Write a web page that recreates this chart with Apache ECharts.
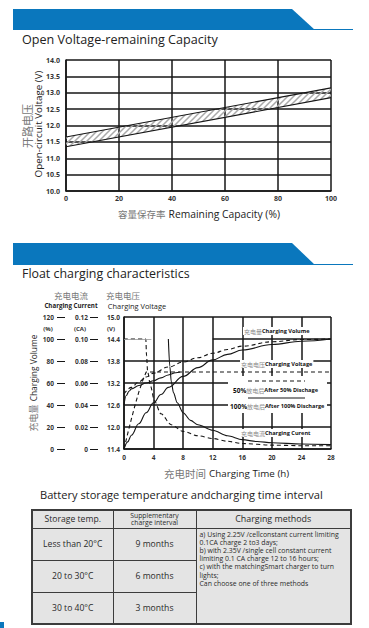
<!DOCTYPE html>
<html>
<head>
<meta charset="utf-8">
<script src="https://cdn.jsdelivr.net/npm/echarts/dist/echarts.min.js"></script>
<style>
html,body{margin:0;padding:0;background:#fff;}
#chart{position:absolute;left:0;top:0;width:369px;height:628px;}
#ttl{position:absolute;left:40px;top:488px;font-family:'Open Sans',sans-serif;font-size:11.1px;color:#222;white-space:nowrap;line-height:14px;}
#tbl{position:absolute;left:31px;top:509px;border-collapse:collapse;background:#e4e4e4;font-family:'Open Sans',sans-serif;color:#2a2a2a;table-layout:fixed;border:2px solid #3c3c3c;}
#tbl td{border:1px solid #3c3c3c;text-align:center;padding:0;font-size:8.6px;line-height:10px;}
#tbl td.h2{font-size:6.8px;line-height:7.4px;}
#tbl td.h3{font-size:8.9px;}
#tbl td.m{text-align:left;vertical-align:top;font-size:6.9px;line-height:8.2px;padding:2px 0 0 3px;white-space:nowrap;}
#mark{position:absolute;left:0;top:622px;width:4px;height:6px;background:#0a77bd;}
</style>
</head>
<body>
<div id="chart"></div>
<div id="ttl">Battery storage temperature andcharging time interval</div>
<table id="tbl">
<colgroup><col style="width:81px"><col style="width:83px"><col style="width:155px"></colgroup>
<tr style="height:18px"><td>Storage temp.</td><td class="h2">Supplementary<br>charge interval</td><td class="h3">Charging methods</td></tr>
<tr style="height:32px"><td>Less than 20°C</td><td>9 months</td><td rowspan="3" class="m">a) Using 2.25V /cellconstant current limiting<br>0.1CA charge 2 to3 days;<br>b) with 2.35V /single cell constant current<br>limiting 0.1 CA charge 12 to 16 hours;<br>c) with the matchingSmart charger to turn<br>lights;<br>Can choose one of three methods</td></tr>
<tr style="height:32px"><td>20 to 30°C</td><td>6 months</td></tr>
<tr style="height:32px"><td>30 to 40°C</td><td>3 months</td></tr>
</table>
<div id="mark"></div>
<script>
// ---- Open voltage vs remaining capacity ----
const capacity = [0, 100];
const ocvUpper = [11.65, 13.15];
const ocvLower = [11.35, 12.85];

// ---- Float charging characteristics ([hours, value]) ----
const volume50 = [[0,50],[1,56],[2,61],[3,65.5],[4,69],[6,74.5],[8,79],[10,83],[12,87],[14,90.5],[16,93.5],[20,97.5],[24,99.5],[28,100]];
const volume100 = [[0,0],[0.5,6.5],[1,12.5],[2,23],[3,33],[4,42],[5,49.5],[6,56],[8,66],[10,74],[12,81],[14,86],[16,90],[20,95],[24,98],[28,100]];
const voltage50 = [[0,11.4],[0.5,11.82],[1,12.22],[1.5,12.6],[2,12.95],[2.5,13.25],[3,13.5],[28,13.5]];
const voltage100 = [[0,12.6],[0.3,12.86],[0.7,12.98],[1,13.04],[2,13.13],[3,13.2],[4,13.26],[5,13.34],[6,13.42],[7,13.48],[7.6,13.5]];
const current50 = [[0,0.1],[2.95,0.1],[3.05,0.085],[3.2,0.07],[3.6,0.057],[4.1,0.044],[5,0.032],[6.4,0.022],[8,0.016],[10,0.012],[12,0.0095],[14,0.007],[16,0.005],[20,0.0035],[24,0.003],[28,0.003]];
const current100 = [[6,0.1],[6.2,0.075],[6.4,0.061],[6.7,0.051],[7.2,0.042],[8,0.033],[9,0.026],[10,0.022],[12,0.017],[14,0.012],[16,0.0085],[18,0.0068],[20,0.0057],[24,0.0045],[28,0.004]];
const row144Segments = [[12, 28]];
const row144Faint = [[0, 3.7]];

const EN = "'Open Sans', sans-serif";
const CN = "'Noto Sans CJK SC', sans-serif";
const BLUE = '#0a77bd';
const INK = '#161616';

function hatch() {
  const c = document.createElement('canvas');
  c.width = 6; c.height = 6;
  const g = c.getContext('2d');
  g.strokeStyle = '#a9a9a9'; g.lineWidth = 1.5;
  g.beginPath();
  g.moveTo(-1, 7); g.lineTo(7, -1);
  g.moveTo(-4, 4); g.lineTo(4, -4);
  g.moveTo(2, 10); g.lineTo(10, 2);
  g.stroke();
  return c;
}
const hatchFill = {image: hatch(), repeat: 'repeat'};

const tickLabel = {fontFamily: EN, fontSize: 7, fontWeight: 'bold', color: '#333'};
const blackLine = {color: INK, width: 1.5};

function txt(x, y, text, style, extra) {
  return Object.assign({type: 'text', x: x, y: y, z: 100, silent: true,
    style: Object.assign({text: text, align: 'left', verticalAlign: 'middle', fontFamily: EN, fill: '#222'}, style)}, extra || {});
}
function label(x, y, text) {
  return txt(x, y, text, {
    backgroundColor: '#fff', padding: [1, 1],
    rich: {
      b: {fontFamily: EN, fontSize: 6.5, fontWeight: 'bold', fill: '#111'},
      c: {fontFamily: CN, fontSize: 6, fill: '#8a8a8a'},
      e: {fontFamily: EN, fontSize: 5.6, fontWeight: 'bold', fill: '#111'}
    }
  });
}

const graphic = [
  {type: 'polygon', z: 100, silent: true, shape: {points: [[13,9],[292,9],[315,30],[13,30]]}, style: {fill: BLUE}},
  {type: 'line', z: 100, silent: true, shape: {x1: 314, y1: 29.5, x2: 353, y2: 29.5}, style: {stroke: BLUE, lineWidth: 1}},
  {type: 'polygon', z: 100, silent: true, shape: {points: [[13,243],[292,243],[315,265],[13,265]]}, style: {fill: BLUE}},
  {type: 'line', z: 100, silent: true, shape: {x1: 314, y1: 264.5, x2: 353, y2: 264.5}, style: {stroke: BLUE, lineWidth: 1}},
  txt(22, 39, 'Open Voltage-remaining Capacity', {fontSize: 12.6, fill: '#222'}),
  txt(22, 273, 'Float charging characteristics', {fontSize: 12.4, fill: '#222'}),
  // top chart axis names
  txt(27, 126, '开路电压', {fontFamily: CN, fontSize: 11, fill: '#777', align: 'center'}, {rotation: Math.PI / 2}),
  txt(38, 124, 'Open-circuit Voltage (V)', {fontSize: 9.8, fill: '#222', align: 'center'}, {rotation: Math.PI / 2}),
  txt(118, 214, '{c|容量保存率} {e|Remaining Capacity (%)}', {rich: {
    c: {fontFamily: CN, fontSize: 9.5, fill: '#777'},
    e: {fontFamily: EN, fontSize: 10.3, fill: '#222'}}}),
  // float chart headers
  txt(71, 295.3, '充电电流', {fontFamily: CN, fontSize: 8.5, lineHeight: 9, fill: '#777', align: 'center'}),
  txt(71, 305.6, 'Charging Current', {fontSize: 6.2, lineHeight: 7, fontWeight: 'bold', fill: '#222', align: 'center'}),
  txt(123, 295.3, '充电电压', {fontFamily: CN, fontSize: 8.5, lineHeight: 9, fill: '#777', align: 'center'}),
  txt(137, 306.2, 'Charging Voltage', {fontSize: 7.4, lineHeight: 8, fill: '#222', align: 'center'}),
  txt(48, 329, '(%)', {fontSize: 6, fontWeight: 'bold', fill: '#333', align: 'center'}),
  txt(80, 329, '(CA)', {fontSize: 6, fontWeight: 'bold', fill: '#333', align: 'center'}),
  txt(111, 329, '(V)', {fontSize: 6, fontWeight: 'bold', fill: '#333', align: 'center'}),
  txt(33, 383, '{c|充电量} {e|Charging Volume}', {align: 'center', rich: {
    c: {fontFamily: CN, fontSize: 9, fill: '#777'},
    e: {fontFamily: EN, fontSize: 8.4, fill: '#222'}}}, {rotation: Math.PI / 2}),
  txt(164, 473, '{c|充电时间} {e|Charging Time (h)}', {rich: {
    c: {fontFamily: CN, fontSize: 10.5, fill: '#777'},
    e: {fontFamily: EN, fontSize: 9.8, fill: '#222'}}}),
  // in-plot legend box
  {type: 'rect', z: 99, silent: true, shape: {x: 228, y: 376, width: 99, height: 37}, style: {fill: '#fff'}},
  {type: 'line', z: 100, silent: true, shape: {x1: 248, y1: 381, x2: 305, y2: 381}, style: {stroke: INK, lineWidth: 1, lineDash: [4, 3]}},
  {type: 'line', z: 100, silent: true, shape: {x1: 248, y1: 398, x2: 305, y2: 398}, style: {stroke: INK, lineWidth: 1}},
  label(243, 331, '{c|充电量}{e|Charging Volume}'),
  label(240, 364, '{c|充电电压}{e|Charging Voltage}'),
  label(232, 390, '{b|50%}{c|放电后}{e|After 50% Dischage}'),
  label(229, 406, '{b|100%}{c|放电后}{e|After 100% Discharge}'),
  label(240, 433, '{c|充电电流}{e|Charging Curent}')
];

const curveLine = (dashed) => ({color: INK, width: 1.1, type: dashed ? [4, 3] : 'solid'});
function curve(data, yIdx, dashed, smooth, extra) {
  return Object.assign({type: 'line', xAxisIndex: 1, yAxisIndex: yIdx, data: data, symbol: 'none',
    smooth: smooth, smoothMonotone: 'x', silent: true, lineStyle: curveLine(dashed), z: 3}, extra || {});
}

const option = {
  animation: false,
  backgroundColor: '#fff',
  graphic: graphic,
  grid: [
    {left: 66, top: 60, width: 265, height: 131, outerBoundsMode: 'none', containLabel: false},
    {left: 124, top: 317, width: 207, height: 132, outerBoundsMode: 'none', containLabel: false}
  ],
  xAxis: [
    {type: 'value', gridIndex: 0, min: 0, max: 100, interval: 20,
      axisLine: {show: true, lineStyle: blackLine}, axisTick: {show: false},
      splitLine: {show: true, lineStyle: blackLine},
      axisLabel: Object.assign({margin: 4}, tickLabel)},
    {type: 'value', gridIndex: 1, min: 0, max: 28, interval: 4,
      axisLine: {show: true, lineStyle: blackLine}, axisTick: {show: false},
      splitLine: {show: true, lineStyle: blackLine},
      axisLabel: Object.assign({margin: 5}, tickLabel, {fontSize: 6.5})}
  ],
  yAxis: [
    {type: 'value', gridIndex: 0, min: 10, max: 14, interval: 0.5,
      axisLine: {show: true, lineStyle: blackLine}, axisTick: {show: false},
      splitLine: {show: true, lineStyle: blackLine},
      axisLabel: Object.assign({margin: 6, formatter: v => v.toFixed(1)}, tickLabel)},
    {type: 'value', gridIndex: 1, position: 'left', offset: 0, min: 11.4, max: 15, interval: 0.6,
      axisLine: {show: true, lineStyle: blackLine}, axisTick: {show: false},
      splitLine: {show: true, lineStyle: {width: 1.5, color: [INK, INK, INK, INK, INK, 'rgba(0,0,0,0)', INK]}},
      axisLabel: Object.assign({margin: 4, formatter: v => v.toFixed(1)}, tickLabel, {fontSize: 6.5})},
    {type: 'value', gridIndex: 1, position: 'left', offset: 34, min: 0, max: 0.12, interval: 0.02,
      axisLine: {show: false}, axisTick: {show: true, inside: true, length: 8, lineStyle: {color: INK, width: 1}},
      splitLine: {show: false},
      axisLabel: Object.assign({margin: 2, formatter: v => v === 0 ? '0' : v.toFixed(2)}, tickLabel, {fontSize: 6.5})},
    {type: 'value', gridIndex: 1, position: 'left', offset: 67, min: 0, max: 120, interval: 20,
      axisLine: {show: false}, axisTick: {show: true, inside: true, length: 8, lineStyle: {color: INK, width: 1}},
      splitLine: {show: false},
      axisLabel: Object.assign({margin: 3}, tickLabel, {fontSize: 6.5})}
  ],
  series: [
    {type: 'custom', xAxisIndex: 0, yAxisIndex: 0, silent: true, z: 2,
      data: capacity.map((x, i) => [x, ocvLower[i], ocvUpper[i]]),
      encode: {x: 0, y: [1, 2]},
      renderItem: function (params, api) {
        const i = params.dataIndex;
        if (i >= capacity.length - 1) return null;
        const pts = [
          api.coord([capacity[i], ocvUpper[i]]),
          api.coord([capacity[i + 1], ocvUpper[i + 1]]),
          api.coord([capacity[i + 1], ocvLower[i + 1]]),
          api.coord([capacity[i], ocvLower[i]])
        ];
        return {type: 'polygon', shape: {points: pts}, style: {fill: hatchFill, stroke: null}};
      }},
    {type: 'line', xAxisIndex: 0, yAxisIndex: 0, symbol: 'none', silent: true,
      data: capacity.map((x, i) => [x, ocvLower[i]]), lineStyle: {color: INK, width: 1.1}, z: 3},
    {type: 'line', xAxisIndex: 0, yAxisIndex: 0, symbol: 'none', silent: true,
      data: capacity.map((x, i) => [x, ocvUpper[i]]), lineStyle: {color: INK, width: 1.1}, z: 3},
    curve(volume50, 3, true, 0.4),
    curve(volume100, 3, false, 0.4),
    curve(voltage50, 1, true, false),
    curve(voltage100, 1, false, 0.4, {
      markLine: {silent: true, symbol: ['none', 'none'], label: {show: false}, animation: false,
        data: row144Segments.map(s => [{coord: [s[0], 14.4], lineStyle: {color: INK, width: 1.5, type: 'solid'}}, {coord: [s[1], 14.4]}])
          .concat(row144Faint.map(s => [{coord: [s[0], 14.4], lineStyle: {color: '#999', width: 0.8, type: 'solid'}}, {coord: [s[1], 14.4]}]))}
    }),
    curve(current50, 2, true, 0.3),
    curve(current100, 2, false, 0.3)
  ]
};

const chart = echarts.init(document.getElementById('chart'), null, {renderer: 'svg', width: 369, height: 628});
chart.setOption(option);
</script>
</body>
</html>
